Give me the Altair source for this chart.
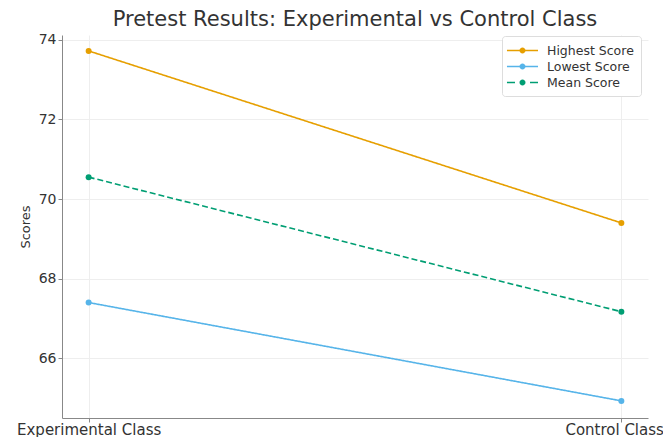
import altair as alt
import pandas as pd

classes = ["Experimental Class", "Control Class"]
series = ["Highest Score", "Lowest Score", "Mean Score"]
highest = [73.72, 69.40]
lowest = [67.40, 64.93]
mean = [70.55, 67.17]
colors = ["#E69F00", "#56B4E9", "#009E73"]

rows = []
for name, vals in zip(series, [highest, lowest, mean]):
    for c, v in zip(classes, vals):
        rows.append({"Class": c, "Series": name, "Score": v})
df = pd.DataFrame(rows)

# legend glyphs (line with a dot), unit = 7.5px
circle = "M1.2,0A0.4,0.4 0 1,1 0.4,0A0.4,0.4 0 1,1 1.2,0Z"
solid_sym = "M-1.27,-0.11H2.87V0.11H-1.27Z" + circle
dash_sym = ("M-1.27,-0.11H-0.2V0.11H-1.27Z"
            "M1.8,-0.11H2.87V0.11H1.8Z" + circle)

color_scale = alt.Scale(domain=series, range=colors)

x_enc = alt.X("Class:N", sort=classes,
              scale=alt.Scale(type="point", padding=0.05),
              axis=alt.Axis(title=None, labelAngle=0, labelFontSize=15, labelColor="#333",
                            labelFont="DejaVu Sans", domainColor="#888", tickColor="#888",
                            gridColor="#eeeeee", grid=True, labelPadding=0, tickSize=4,
                            labelAlign={"expr": "datum.value == 'Control Class' ? 'right' : 'center'"},
                            labelOffset={"expr": "datum.value == 'Control Class' ? 42 : 0"}))
y_enc = alt.Y("Score:Q", scale=alt.Scale(domain=[64.5, 74.12], nice=False, zero=False),
              axis=alt.Axis(title="Scores", values=[66, 68, 70, 72, 74], labelFontSize=14,
                            labelColor="#333", labelFont="DejaVu Sans", titleFont="DejaVu Sans",
                            titleFontSize=13, titleFontWeight="normal", titleColor="#333",
                            domainColor="#888", tickColor="#888", gridColor="#eeeeee",
                            titlePadding=6, tickSize=4, labelPadding=2))

base = alt.Chart(df).encode(x=x_enc, y=y_enc)

legend_layer = base.mark_point(filled=True, size=0, opacity=1).encode(
    color=alt.Color("Series:N", scale=color_scale, sort=series,
                    legend=alt.Legend(title=None, orient="none", legendX=440, legendY=1,
                                      symbolOpacity=1, symbolSize=225, symbolStrokeWidth=0,
                                      labelFontSize=12.5, labelFont="DejaVu Sans",
                                      labelColor="#333", fillColor="white", labelOffset=23,
                                      strokeColor="#dddddd", padding=7, cornerRadius=3,
                                      rowPadding=2)),
    shape=alt.Shape("Series:N", sort=series,
                    scale=alt.Scale(domain=series, range=[solid_sym, solid_sym, dash_sym])),
)

lines = base.mark_line(strokeWidth=1.6).encode(
    color=alt.Color("Series:N", scale=color_scale, legend=None),
    strokeDash=alt.StrokeDash("Series:N",
                              scale=alt.Scale(domain=series, range=[[1, 0], [1, 0], [6, 3]]),
                              legend=None),
)

points = base.mark_circle(size=36, opacity=1).encode(
    color=alt.Color("Series:N", scale=color_scale, legend=None),
)

chart = alt.layer(legend_layer, lines, points).resolve_legend(
    color="independent", shape="independent", strokeDash="independent"
).properties(
    width=586,
    height=383,
    title=alt.TitleParams("Pretest Results: Experimental vs Control Class", fontSize=21,
                          font="DejaVu Sans", fontWeight="normal", color="#333", offset=3),
    autosize=alt.AutoSizeParams(type="none"),
    padding={"left": 54, "top": 27, "right": 15, "bottom": 19},
).configure_view(stroke=None)

chart.save("out.html", embed_options={"renderer": "svg", "actions": False})
